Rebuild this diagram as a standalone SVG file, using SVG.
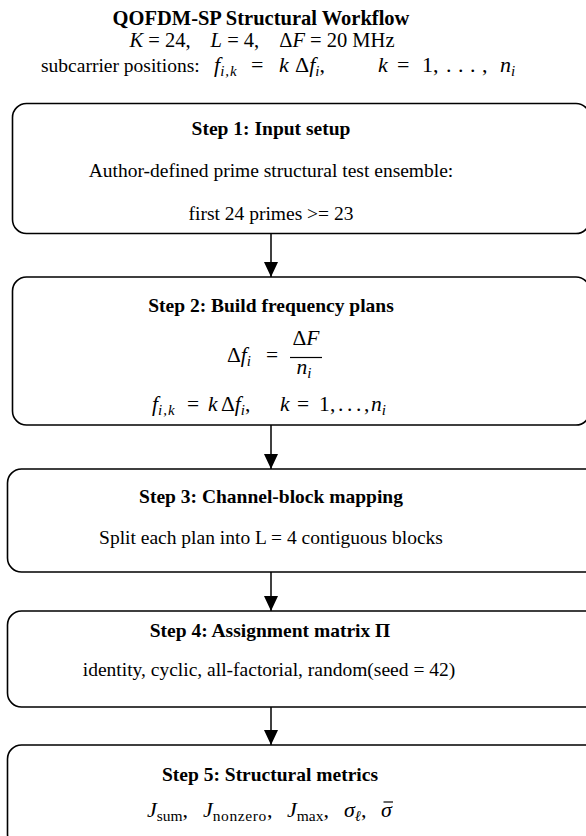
<svg xmlns="http://www.w3.org/2000/svg" width="586" height="836" viewBox="0 0 586 836">
<defs>
<marker id="ah" markerUnits="userSpaceOnUse" markerWidth="15" markerHeight="14" refX="15" refY="7" orient="auto">
<path d="M0,0 L15,7 L0,14 z" fill="#000"/>
</marker>
</defs>
<style>
text{font-family:"Liberation Serif","Times New Roman",serif;font-size:19.5px;fill:#000}
.t{font-weight:bold}
.ttl{font-weight:bold;font-size:20.5px}
.m{font-size:20.5px}
.m21{font-size:21.5px}
.m22{font-size:22px}
.txt{font-size:19.5px}
.i{font-style:italic}
.sub{font-size:15px;font-style:italic}
.subr{font-size:15.5px}
.box{fill:#fff;stroke:#000;stroke-width:1.6}
.edge{stroke:#000;stroke-width:1.5;fill:none;marker-end:url(#ah)}
.bar{stroke:#000;stroke-width:1.2}
</style>
<rect width="586" height="836" fill="#fff"/>
<g id="header">
<text class="ttl" x="261" y="25" text-anchor="middle">QOFDM-SP Structural Workflow</text>
<text class="m" x="262" y="47" text-anchor="middle"><tspan class="i">K</tspan> = 24,<tspan dx="20" class="i">L</tspan> = 4,<tspan dx="20">Δ</tspan><tspan class="i">F</tspan> = 20 MHz</text>
<text class="m22" y="72"><tspan class="txt" x="41">subcarrier positions:</tspan><tspan x="214" class="i">f</tspan><tspan class="sub" y="76" letter-spacing="1">i,k</tspan><tspan x="251" y="72">=</tspan><tspan x="279" class="i">k</tspan><tspan x="295">Δ</tspan><tspan class="i">f</tspan><tspan class="sub" y="76">i</tspan><tspan y="72">,</tspan><tspan x="378" class="i">k</tspan><tspan x="397">=</tspan><tspan x="422">1</tspan><tspan x="433">,</tspan><tspan x="446">.</tspan><tspan x="458">.</tspan><tspan x="470">.</tspan><tspan x="482">,</tspan><tspan x="500" class="i">n</tspan><tspan class="sub" y="76">i</tspan></text>
</g>
<g id="connectors">
<line class="edge" x1="271" y1="233.5" x2="271" y2="277"/>
<line class="edge" x1="271" y1="425" x2="271" y2="469"/>
<line class="edge" x1="271" y1="572" x2="271" y2="611"/>
<line class="edge" x1="271" y1="707" x2="271" y2="745"/>
</g>
<g id="step1">
<rect class="box" x="12.5" y="103.5" width="577.5" height="130" rx="14"/>
<text class="t" x="271" y="135" text-anchor="middle">Step 1: Input setup</text>
<text x="271" y="177" text-anchor="middle">Author-defined prime structural test ensemble:</text>
<text x="271" y="220" text-anchor="middle">first 24 primes &gt;= 23</text>
</g>
<g id="step2">
<rect class="box" x="12.5" y="277" width="577.5" height="148" rx="14"/>
<text class="t" x="271" y="312" text-anchor="middle">Step 2: Build frequency plans</text>
<text class="m21" y="362"><tspan x="227">Δ</tspan><tspan class="i">f</tspan><tspan class="sub" y="366">i</tspan><tspan x="266" y="362">=</tspan></text>
<text class="m21" x="306" y="345" text-anchor="middle">Δ<tspan class="i">F</tspan></text>
<line class="bar" x1="290" y1="357.5" x2="322" y2="357.5"/>
<text class="m21" x="304" y="374" text-anchor="middle"><tspan class="i">n</tspan><tspan class="sub" dy="4">i</tspan></text>
<text class="m21" y="411"><tspan x="152" class="i">f</tspan><tspan class="sub" y="415" letter-spacing="1">i,k</tspan><tspan x="187" y="411">=</tspan><tspan x="208" class="i">k</tspan><tspan x="221">Δ</tspan><tspan class="i">f</tspan><tspan class="sub" y="415">i</tspan><tspan y="411">,</tspan><tspan x="280" class="i">k</tspan><tspan x="297">=</tspan><tspan x="319">1</tspan><tspan x="330">,</tspan><tspan x="338">.</tspan><tspan x="347">.</tspan><tspan x="356">.</tspan><tspan x="364">,</tspan><tspan x="371" class="i">n</tspan><tspan class="sub" y="415">i</tspan></text>
</g>
<g id="step3">
<rect class="box" x="7.5" y="469" width="600" height="103" rx="14"/>
<text class="t" x="271" y="503" text-anchor="middle">Step 3: Channel-block mapping</text>
<text x="271" y="544" text-anchor="middle">Split each plan into L = 4 contiguous blocks</text>
</g>
<g id="step4">
<rect class="box" x="7.5" y="611" width="600" height="96" rx="14"/>
<text class="t" x="270" y="637" text-anchor="middle">Step 4: Assignment matrix Π</text>
<text x="269" y="676" text-anchor="middle">identity, cyclic, all-factorial, random(seed = 42)</text>
</g>
<g id="step5">
<rect class="box" x="7.5" y="745" width="600" height="103" rx="14"/>
<text class="t" x="270" y="781" text-anchor="middle">Step 5: Structural metrics</text>
<text class="m22" y="817"><tspan x="147" class="i">J</tspan><tspan class="subr" y="821">sum</tspan><tspan y="817">,</tspan><tspan x="203" class="i">J</tspan><tspan class="subr" y="821" letter-spacing="0.6">nonzero</tspan><tspan y="817">,</tspan><tspan x="287" class="i">J</tspan><tspan class="subr" y="821">max</tspan><tspan y="817">,</tspan><tspan x="344" class="i">σ</tspan><tspan class="sub" y="821">ℓ</tspan><tspan y="817">,</tspan><tspan x="381" class="i">σ</tspan></text>
<line class="bar" x1="383.5" y1="802" x2="393" y2="802"/>
</g>
</svg>
